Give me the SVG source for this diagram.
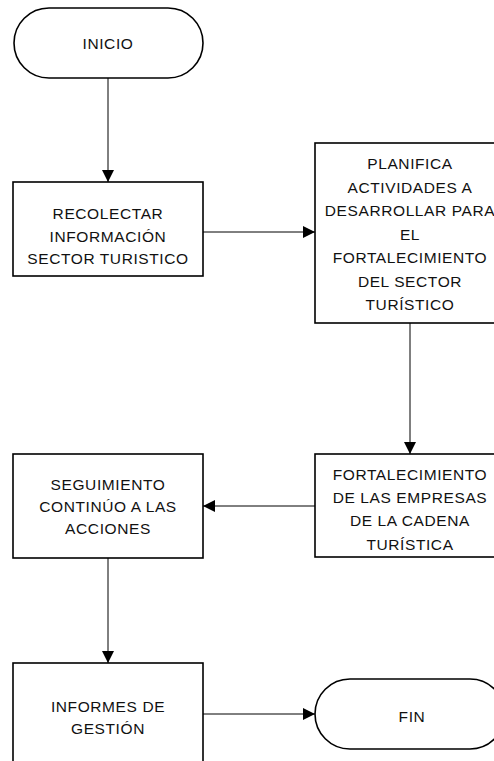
<svg xmlns="http://www.w3.org/2000/svg" width="494" height="761" viewBox="0 0 494 761">
  <style>
    .shape { fill: #ffffff; stroke: #000000; stroke-width: 1.6; }
    .conn { fill: none; stroke: #000000; stroke-width: 1; }
    .lbl { font-family: "Liberation Sans", Arial, sans-serif; font-size: 15.5px; letter-spacing: 0.6px; fill: #111111; text-anchor: middle; }
  </style>
  <defs>
    <marker id="arrow" viewBox="0 0 12 12" refX="12" refY="6" markerWidth="12" markerHeight="12" markerUnits="userSpaceOnUse" orient="auto">
      <path d="M0,0 L12,6 L0,12 Z" fill="#000000"/>
    </marker>
  </defs>
  <rect width="494" height="761" fill="#ffffff"/>

  <g id="connectors">
    <line class="conn" x1="108" y1="78" x2="108" y2="182" marker-end="url(#arrow)"/>
    <line class="conn" x1="203" y1="232" x2="315" y2="232" marker-end="url(#arrow)"/>
    <line class="conn" x1="410" y1="323" x2="410" y2="454" marker-end="url(#arrow)"/>
    <line class="conn" x1="315" y1="506" x2="203" y2="506" marker-end="url(#arrow)"/>
    <line class="conn" x1="108" y1="558" x2="108" y2="663" marker-end="url(#arrow)"/>
    <line class="conn" x1="203" y1="714" x2="315" y2="714" marker-end="url(#arrow)"/>
  </g>

  <g id="inicio">
    <rect class="shape" x="14" y="8" width="189" height="70" rx="35" ry="35"/>
    <text class="lbl" x="108" y="48.5">INICIO</text>
  </g>

  <g id="recolectar">
    <rect class="shape" x="13" y="182" width="190" height="94"/>
    <text class="lbl" x="108" y="219">RECOLECTAR</text>
    <text class="lbl" x="108" y="241.5">INFORMACIÓN</text>
    <text class="lbl" x="108" y="264">SECTOR TURISTICO</text>
  </g>

  <g id="planifica">
    <rect class="shape" x="315" y="143" width="190" height="180"/>
    <text class="lbl" x="410" y="169">PLANIFICA</text>
    <text class="lbl" x="410" y="192.5">ACTIVIDADES A</text>
    <text class="lbl" x="410" y="216">DESARROLLAR PARA</text>
    <text class="lbl" x="410" y="239.5">EL</text>
    <text class="lbl" x="410" y="263">FORTALECIMIENTO</text>
    <text class="lbl" x="410" y="286.5">DEL SECTOR</text>
    <text class="lbl" x="410" y="310">TURÍSTICO</text>
  </g>

  <g id="fortalecimiento">
    <rect class="shape" x="315" y="454" width="190" height="103"/>
    <text class="lbl" x="410" y="479.5">FORTALECIMIENTO</text>
    <text class="lbl" x="410" y="503">DE LAS EMPRESAS</text>
    <text class="lbl" x="410" y="526">DE LA CADENA</text>
    <text class="lbl" x="410" y="549.5">TURÍSTICA</text>
  </g>

  <g id="seguimiento">
    <rect class="shape" x="13" y="454" width="190" height="104"/>
    <text class="lbl" x="108" y="490">SEGUIMIENTO</text>
    <text class="lbl" x="108" y="512">CONTINÚO A LAS</text>
    <text class="lbl" x="108" y="534">ACCIONES</text>
  </g>

  <g id="informes">
    <rect class="shape" x="13" y="663" width="190" height="120"/>
    <text class="lbl" x="108" y="711.5">INFORMES DE</text>
    <text class="lbl" x="108" y="734">GESTIÓN</text>
  </g>

  <g id="fin">
    <rect class="shape" x="315" y="679" width="190" height="70" rx="35" ry="35"/>
    <text class="lbl" x="412" y="722">FIN</text>
  </g>
</svg>
